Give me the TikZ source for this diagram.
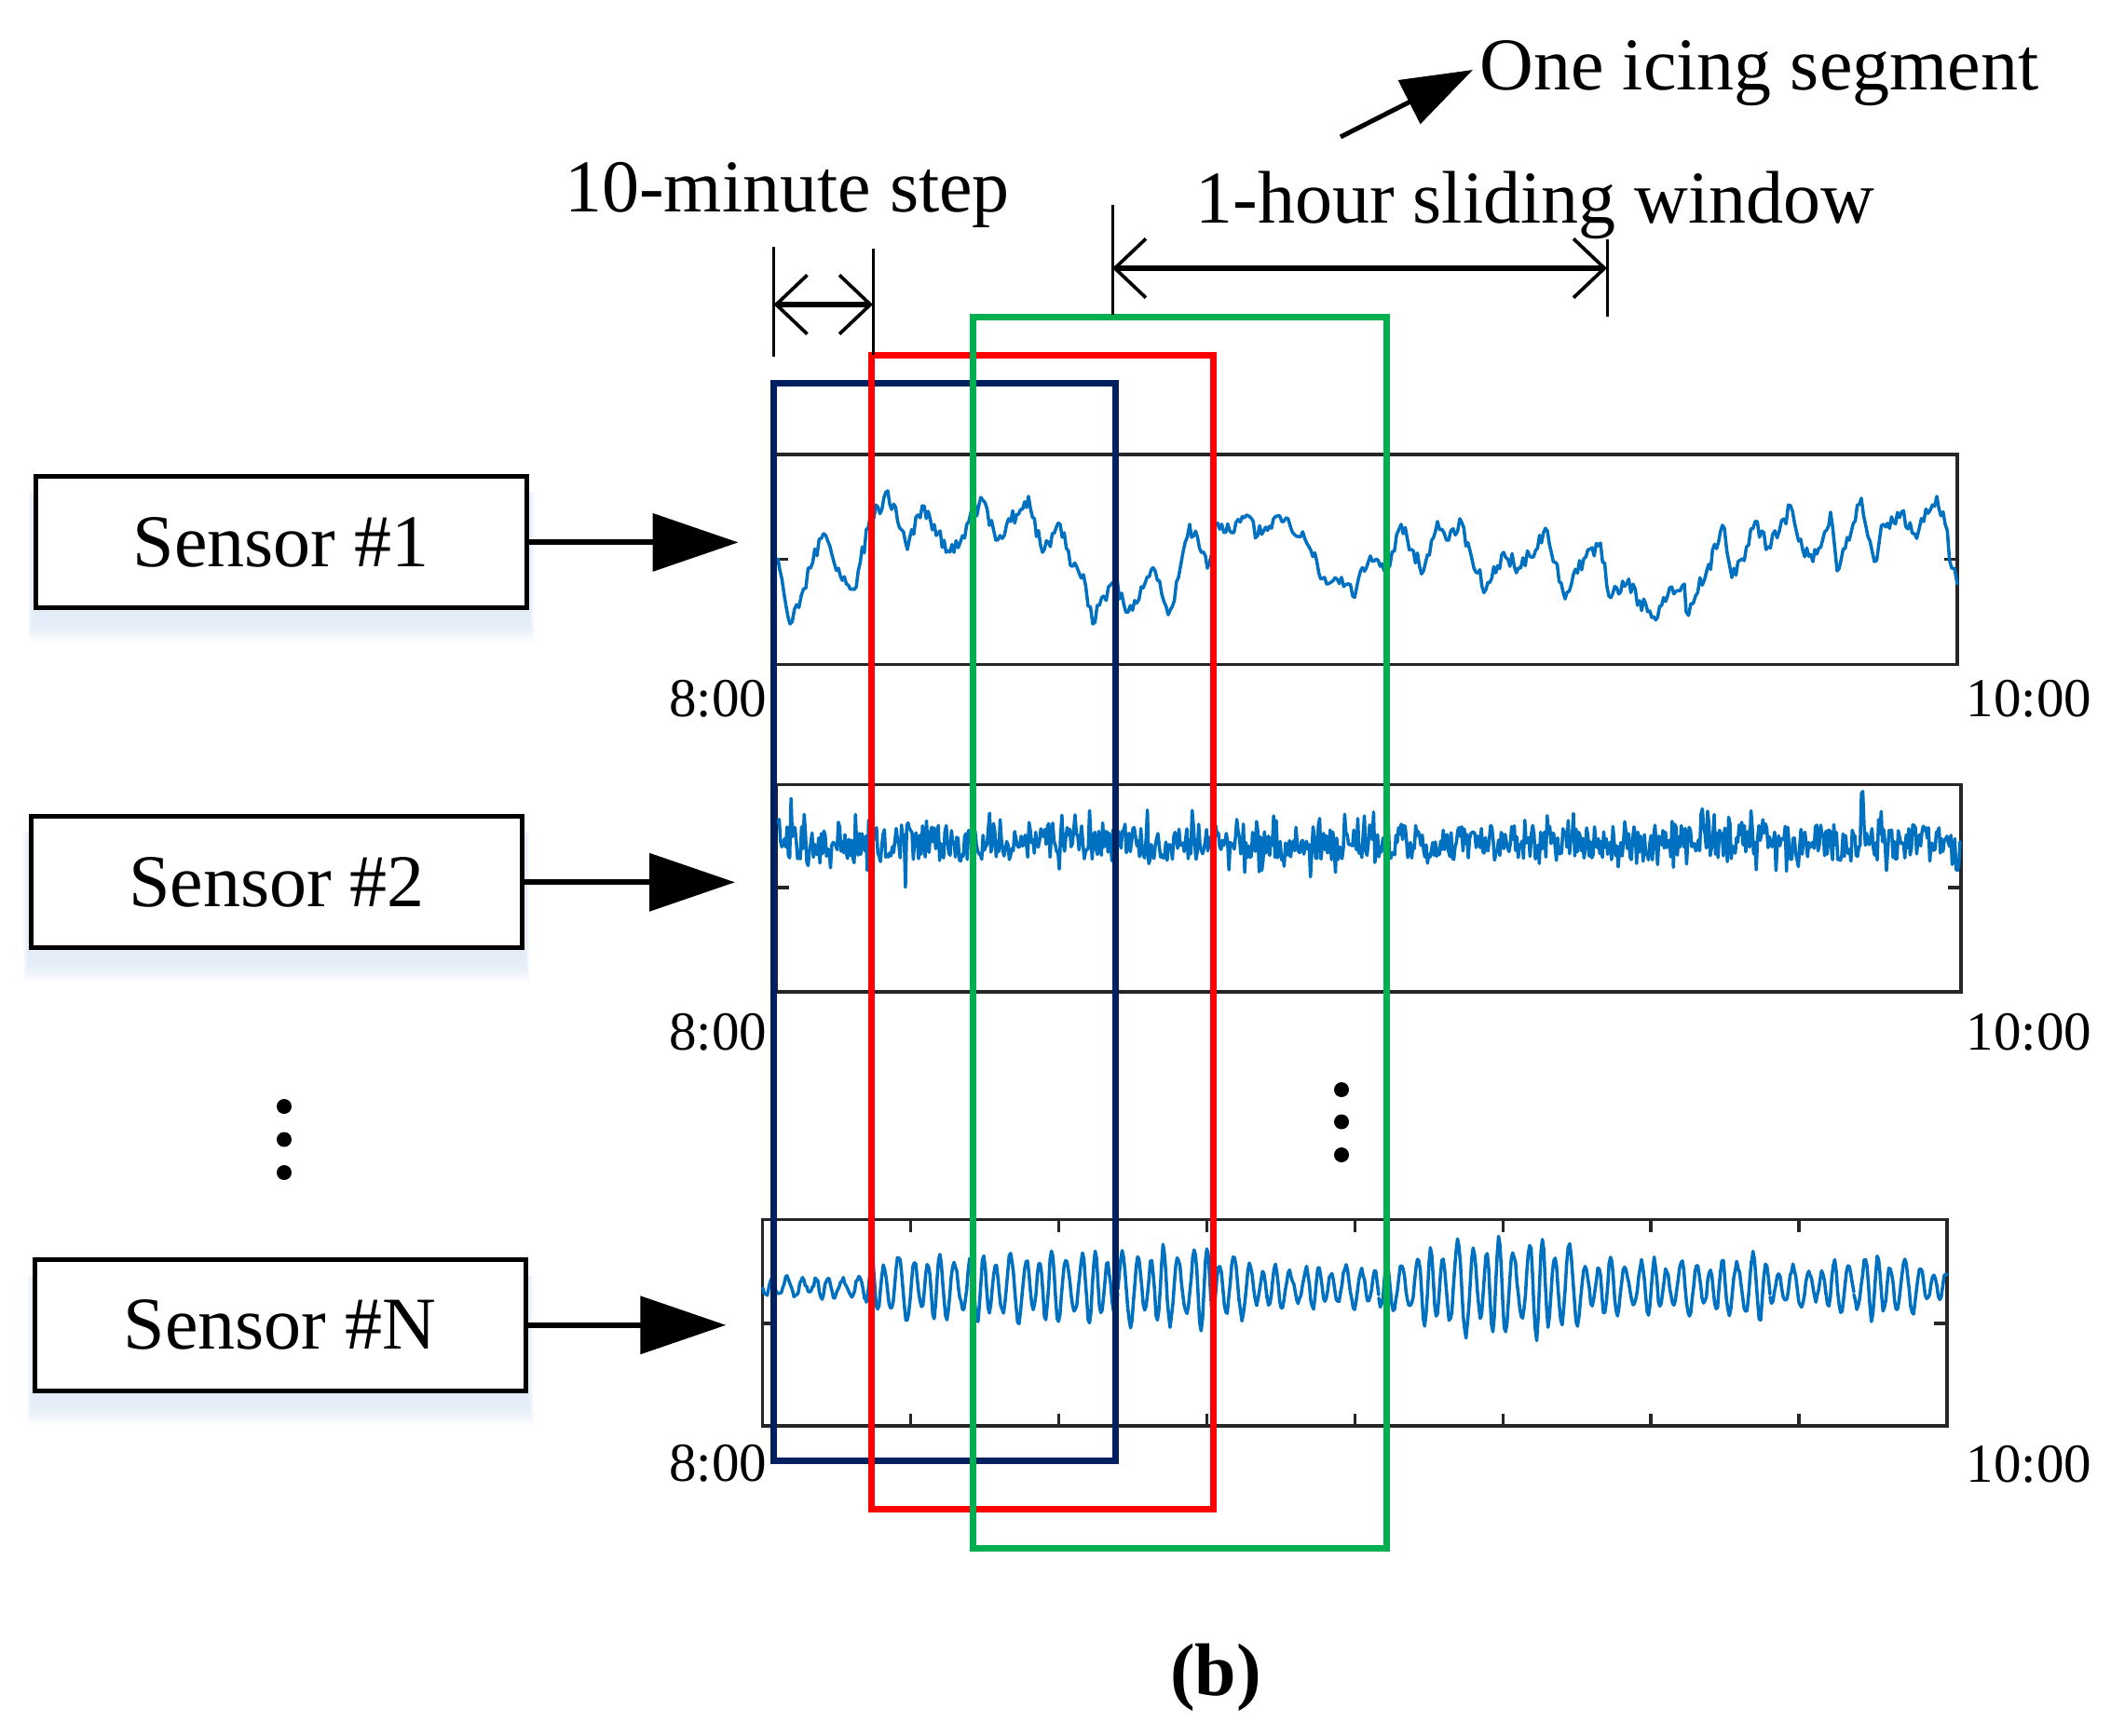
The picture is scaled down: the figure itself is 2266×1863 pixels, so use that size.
\documentclass[tikz,border=0pt]{standalone}
\usepackage{fontspec}
\setmainfont{Liberation Serif}
\usetikzlibrary{arrows.meta,backgrounds}
\definecolor{navy}{HTML}{002060}
\definecolor{rd}{HTML}{FF0000}
\definecolor{gr}{HTML}{00B050}
\definecolor{sigblue}{HTML}{0070C0}
\definecolor{frm}{HTML}{262626}
\definecolor{glow}{HTML}{5B8FD0}
\begin{document}
\begin{tikzpicture}[x=0.3pt,y=-0.3pt,
  sensorbox/.style={draw=black, line width=1.5pt, fill=white, minimum width=158.1pt,
    minimum height=42.3pt, inner sep=0pt, font=\fontsize{24}{28}\selectfont},
  lab/.style={inner sep=0pt, font=\fontsize{24}{28}\selectfont},
  timelab/.style={inner sep=0pt, font=\fontsize{17.7}{20}\selectfont},
  sarrow/.style={line width=1.8pt, -{Triangle[length=27.6pt,width=18.4pt]}},
  dimarrow/.style={line width=1.6pt, {Straight Barb[length=10pt,width=19pt,line width=1.1pt]}-{Straight Barb[length=10pt,width=19pt,line width=1.1pt]}},
  vline/.style={line width=0.9pt, black},
  frame/.style={draw=frm, line width=1pt},
  axtick/.style={frm, line width=1pt},
  sig/.style={sigblue, line width=1.05pt, line join=round, line cap=round},
  win/.style={line width=2.1pt}
]
\useasboundingbox (0,0) rectangle (2266,1863);
\pgfmathsetseed{4242}

% ---------- plot frames ----------
\draw[frame] (832,488) rectangle (2101,713.5);
\draw[frame] (833,842.3) rectangle (2105,1065);
\draw[frame] (818.5,1309.3) rectangle (2090,1531);

% side ticks
\draw[axtick] (832,600.7) -- (846,600.7);
\draw[axtick] (2101,600.7) -- (2087,600.7);
\draw[axtick] (833,953) -- (847,953);
\draw[axtick] (2105,953) -- (2091,953);
\draw[axtick] (818.5,1421) -- (832.5,1421);
\draw[axtick] (2090,1421) -- (2076,1421);
% x ticks plot 3
\foreach \k in {1,...,7}{
  \pgfmathsetmacro\tx{818.5+\k*158.9375}
  \draw[axtick] (\tx,1309.3) -- (\tx,1323);
  \draw[axtick] (\tx,1531) -- (\tx,1517.5);
}

% ---------- signal 1 (random walk) ----------
\foreach \px/\py [remember=\px as \lx (initially 835), remember=\py as \ly (initially 600)] in {
848/670, 860/640, 870/610, 884/573, 900/610, 917/633, 932/567, 953/527, 974/590, 990/543,
1005/575, 1024/593, 1040/560, 1055/537, 1069/580, 1085/560, 1104/533, 1119/593, 1138/563,
1149/607, 1163/617, 1173/670, 1185/640, 1197/627, 1211/657, 1225/630, 1240/613, 1254/660,
1265/620, 1277/563, 1296/610, 1305/563, 1320/570, 1338/553, 1350/575, 1367/557, 1385/565,
1405/587, 1424/627, 1440/620, 1452/640, 1471/597, 1492/607, 1504/563, 1515/590, 1528/613,
1543/560, 1555/580, 1567/557, 1580/600, 1595/633, 1614/593, 1630/610, 1642/597, 1661/570,
1680/643, 1700/600, 1718/583, 1727/640, 1746/627, 1760/645, 1773/663, 1790/640, 1808/627,
1810/657, 1820/640, 1832/613, 1851/567, 1859/620, 1870/600, 1884/560, 1898/587, 1910/570,
1922/543, 1935/590, 1946/603, 1965/550, 1972/613, 1985/580, 1998/535, 2012/603, 2022/563,
2041/550, 2055/573, 2065/560, 2079/533, 2088/563, 2095/610, 2101/627}{
  \pgfmathtruncatemacro\ns{max(2,round((\px-\lx)/2))}
  \draw[sig] plot[domain=0:1, samples=\ns]
    ({\lx+\x*(\px-\lx)}, {\ly+\x*(\py-\ly)+9*rand*min(1,20*\x*(1-\x))});
}

% ---------- signal 2 (noise) ----------
\draw[sig] plot[domain=835:2104, samples=900]
  (\x, {905+19*rand+48*rand*rand*rand});

% ---------- signal 3 (oscillation) ----------
\foreach \px/\pa [remember=\px as \lx (initially 819), remember=\pa as \la (initially 11)] in {
928/13, 936/36, 1050/38, 1200/42, 1300/46, 1330/36, 1360/24, 1480/24, 1520/38, 1560/54,
1680/56, 1700/34, 1850/30, 1880/46, 1900/24, 1960/24, 1990/36, 2040/34, 2090/16}{
  \pgfmathtruncatemacro\ns{max(2,round((\px-\lx)/1.5))}
  \draw[sig] plot[domain=0:1, samples=\ns]
    ({\lx+\x*(\px-\lx)},
     {1382+(\la+\x*(\pa-\la))*(0.8+0.2*sin(9*mod(\lx+\x*(\px-\lx)-800,40)))
       *sin(24*mod(\lx+\x*(\px-\lx)-819,15)+40*sin(6*mod(\lx+\x*(\px-\lx)-819,60)))+3*rand});
}

% ---------- sliding windows ----------
\draw[win, navy] (830.7,411) rectangle (1197.5,1568);
\draw[win, rd] (935,381) rectangle (1302.5,1620);
\draw[win, gr] (1044,340) rectangle (1488,1662);

% ---------- time labels ----------
\node[timelab, anchor=base east] (l1a) at (824,769) {8:00};
\node[timelab, anchor=base west] (l1b) at (2110,769) {10:00};
\node[timelab, anchor=base east] (l2a) at (824,1127) {8:00};
\node[timelab, anchor=base west] (l2b) at (2110,1127) {10:00};
\node[timelab, anchor=base east] (l3a) at (824,1590) {8:00};
\node[timelab, anchor=base west] (l3b) at (2110,1591) {10:00};

% ---------- sensors ----------
\node[sensorbox] (s1) at (301.5,582.4) {Sensor \#1};
\node[sensorbox] (s2) at (297,947.3) {Sensor \#2};
\node[sensorbox] (sN) at (300.6,1422.8) {Sensor \#N};
\begin{scope}[on background layer]
\foreach \n in {s1,s2,sN}{
  \foreach \k in {1,...,6}{
    \fill[glow, opacity=0.03] ([xshift=-\k*0.3pt, yshift=-4pt-\k*1pt]\n.south west)
      rectangle ([xshift=\k*0.3pt, yshift=-6pt]\n.north east);
  }
}
\end{scope}
\coordinate (a1) at (792.5,582.4);
\coordinate (a2) at (789,947.3);
\coordinate (aN) at (779.3,1422.8);
\draw[sarrow] (s1.east) -- (a1);
\draw[sarrow] (s2.east) -- (a2);
\draw[sarrow] (sN.east) -- (aN);

% ---------- vertical dots ----------
\foreach \yy in {1188,1223.5,1259} \fill (305,\yy) circle[radius=2.4pt];
\foreach \yy in {1170,1204.5,1240} \fill (1440,\yy) circle[radius=2.4pt];

% ---------- dimension marks ----------
\draw[vline] (830.5,265) -- (830.5,383);
\draw[vline] (937,267) -- (937,381);
\coordinate (st1) at (830.5,327);
\coordinate (st2) at (937,327);
\draw[dimarrow] (st1) -- (st2);
\node[lab, anchor=base] (tstep) at (845,227) {10-minute step};

\draw[vline] (1194,220) -- (1194,338);
\draw[vline] (1725,257) -- (1725,340);
\coordinate (w1) at (1194,288);
\coordinate (w2) at (1725,288);
\draw[dimarrow] (w1) -- (w2);
\node[lab, anchor=base] (twin) at (1648,239) {1-hour sliding window};

% ---------- icing segment ----------
\node[lab, anchor=base west] (tseg) at (1588,96) {One icing segment};
\coordinate (segtail) at (1439,147);
\coordinate (segtip) at (1581,75);
\draw[line width=1.5pt, -{Triangle[length=23pt,width=15.5pt]}] (segtail) -- (segtip);

% ---------- caption ----------
\node[lab, font=\fontsize{24}{28}\selectfont\bfseries, anchor=base] (cap) at (1305,1820) {(b)};
\end{tikzpicture}
\end{document}
